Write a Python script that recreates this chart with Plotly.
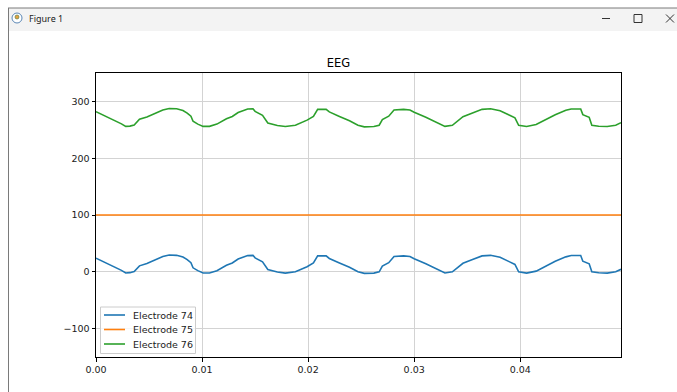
import plotly.graph_objects as go

# ---- data ----
time_ms = [0.0, 0.8, 1.6, 2.4, 2.8, 3.2, 3.6, 3.9, 4.1, 4.8, 5.6, 6.3, 6.9, 7.6, 8.2, 8.6,
           8.95, 9.15, 9.6, 10.1, 10.7, 11.4, 12.3, 12.85, 13.4, 14.3, 14.8, 15.0, 15.7, 16.2,
           17.1, 17.85, 18.8, 19.5, 19.9, 20.5, 20.9, 21.7, 22.0, 22.9, 23.9, 24.7, 25.3, 26.2,
           26.7, 27.0, 27.6, 28.1, 29.0, 29.6, 30.0, 31.1, 32.0, 32.9, 33.6, 34.1, 34.6, 35.5,
           36.4, 37.2, 38.1, 39.0, 39.5, 39.85, 40.6, 41.5, 42.4, 43.3, 44.3, 44.8, 45.7, 45.9,
           46.5, 46.75, 47.4, 48.2, 49.0, 49.5]

electrode_74 = [24, 17, 10, 2.5, -2, -1.5, 0.5, 7, 10.5, 14.5, 21, 27, 29.5, 29, 26, 21.5,
                16, 7, 2, -2, -2, 2, 11.5, 15.5, 22.5, 28.5, 29, 24.5, 17.5, 4,
                -0.5, -2.3, 0, 5.5, 9, 15.5, 28, 28, 23.5, 16, 8, 0, -2.8, -2.3,
                0, 10, 16, 27, 28, 27, 23, 14, 6, -2, 0, 7, 15, 21.5,
                28, 29, 25.5, 17.5, 13, 0, -2.3, 1.2, 10, 18.5, 26.3, 28.7, 28.7, 18.7,
                14, 0, -1.8, -2.3, 0, 4.5]

electrode_75 = [100] * len(time_ms)

electrode_76 = [282, 275, 268, 260.5, 256, 256.5, 258.5, 265, 268.5, 272.5, 279, 285, 287.5, 287, 284, 279.5,
                274, 265, 260, 256, 256, 260, 269.5, 273.5, 280.5, 286.5, 287, 282.5, 275.5, 262,
                257.5, 255.7, 258, 263.5, 267, 273.5, 286, 286, 281.5, 274, 266, 258, 255.2, 255.7,
                258, 268, 274, 285, 286, 285, 281, 272, 264, 256, 258, 265, 273, 279.5,
                286, 287, 283.5, 275.5, 271, 258, 255.7, 259.2, 268, 276.5, 284.3, 286.7, 286.7, 276.7,
                272, 258, 256.2, 255.7, 258, 262.5]

series_names = ["Electrode 74", "Electrode 75", "Electrode 76"]
series_colors = ["#1f77b4", "#ff7f0e", "#2ca02c"]
x_ticks = [0.0, 0.01, 0.02, 0.03, 0.04]
y_ticks = [-100, 0, 100, 200, 300]

time_s = [t / 1000.0 for t in time_ms]

# ---- layout geometry ----
W, H = 677, 392
L, R, T, B = 96, 56, 73, 35
PW, PH = W - L - R, H - T - B


def px(X):
    return (X - L) / PW


def py(Y):
    return (T + PH - Y) / PH


FONT = "DejaVu Sans"

fig = go.Figure()
for vals, name, col in zip([electrode_74, electrode_75, electrode_76], series_names, series_colors):
    fig.add_trace(go.Scatter(x=time_s, y=vals, mode="lines", name=name,
                             line=dict(color=col, width=1.6), showlegend=False))

shapes = []
annotations = []

# window chrome
shapes.append(dict(type="rect", xref="paper", yref="paper", x0=px(8), x1=px(680), y0=py(8), y1=py(31),
                   fillcolor="#f3f3f3", line=dict(width=0), layer="below"))
shapes.append(dict(type="line", xref="paper", yref="paper", x0=px(8), x1=px(680), y0=py(8), y1=py(8),
                   line=dict(color="#7a7a7a", width=1)))
shapes.append(dict(type="line", xref="paper", yref="paper", x0=px(8.5), x1=px(8.5), y0=py(8), y1=py(395),
                   line=dict(color="#7a7a7a", width=1)))
# icon
shapes.append(dict(type="circle", xref="paper", yref="paper", x0=px(12), x1=px(22), y0=py(13), y1=py(23),
                   fillcolor="#ffffff", line=dict(color="#5b87b5", width=1)))
shapes.append(dict(type="circle", xref="paper", yref="paper", x0=px(15), x1=px(19), y0=py(15), y1=py(19),
                   fillcolor="#e8a040", line=dict(color="#4a7a3a", width=0.6)))
annotations.append(dict(text="Figure 1", xref="paper", yref="paper", x=px(27), y=py(18.5),
                        xanchor="left", yanchor="middle", showarrow=False,
                        font=dict(family="Noto Sans", size=9, color="#1a1a1a")))
# window buttons
shapes.append(dict(type="line", xref="paper", yref="paper", x0=px(602), x1=px(610), y0=py(18.5), y1=py(18.5),
                   line=dict(color="#333333", width=1)))
shapes.append(dict(type="rect", xref="paper", yref="paper", x0=px(634), x1=px(642), y0=py(14.5), y1=py(22.5),
                   line=dict(color="#333333", width=1)))
shapes.append(dict(type="line", xref="paper", yref="paper", x0=px(666), x1=px(674), y0=py(14.5), y1=py(22.5),
                   line=dict(color="#333333", width=1)))
shapes.append(dict(type="line", xref="paper", yref="paper", x0=px(666), x1=px(674), y0=py(22.5), y1=py(14.5),
                   line=dict(color="#333333", width=1)))

# legend (drawn manually to match matplotlib spacing)
shapes.append(dict(type="rect", xref="paper", yref="paper", x0=px(100.5), x1=px(195.5), y0=py(353.5), y1=py(307),
                   fillcolor="rgba(255,255,255,0.8)", line=dict(color="#cccccc", width=1)))
rows = [315, 329.5, 344]
for name, col, yy in zip(series_names, series_colors, rows):
    shapes.append(dict(type="line", xref="paper", yref="paper", x0=px(104), x1=px(125), y0=py(yy), y1=py(yy),
                       line=dict(color=col, width=1.6)))
    annotations.append(dict(text=name, xref="paper", yref="paper", x=px(130.5), y=py(yy),
                            xanchor="left", yanchor="middle", showarrow=False,
                            font=dict(family=FONT, size=9.5, color="#1a1a1a")))

fig.update_layout(
    width=W, height=H, autosize=False,
    margin=dict(l=L, r=R, t=T, b=B, pad=0),
    paper_bgcolor="white", plot_bgcolor="white",
    title=dict(text="EEG", x=px(358.5), xanchor="center", y=1 - 63 / H, yanchor="middle",
               font=dict(family=FONT, size=11.5, color="#000000")),
    font=dict(family=FONT, size=9.5, color="#1a1a1a"),
    shapes=shapes, annotations=annotations,
    showlegend=False,
)
axis_common = dict(showgrid=True, gridcolor="#d3d3d3", gridwidth=1, zeroline=False,
                   showline=True, linecolor="#000000", linewidth=1, mirror=True,
                   ticks="outside", ticklen=3.5, tickwidth=1, tickcolor="#000000",
                   tickfont=dict(family=FONT, size=9.5, color="#1a1a1a"))
fig.update_xaxes(range=[0, 0.0495], tickvals=x_ticks, tickformat=".2f", **axis_common)
fig.update_yaxes(range=[-150, 350], tickvals=y_ticks, **axis_common)

fig.write_html("out.html")
